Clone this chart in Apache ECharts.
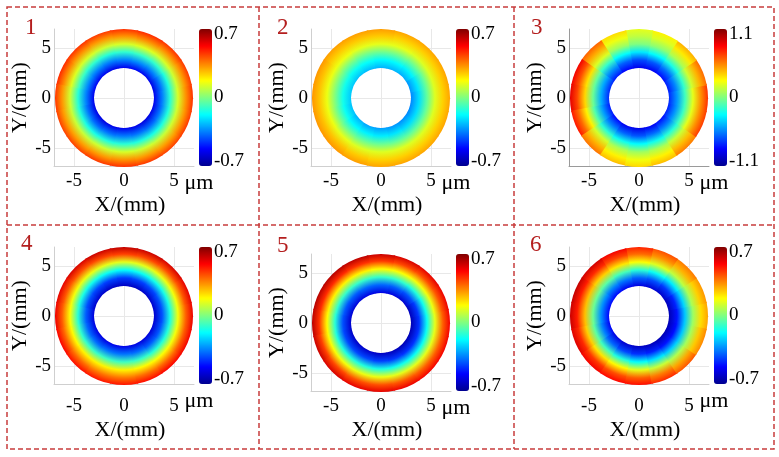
<!DOCTYPE html>
<html><head><meta charset="utf-8">
<script src="https://cdn.jsdelivr.net/npm/echarts@6/dist/echarts.min.js"></script>
<style>html,body{margin:0;padding:0;background:#fff}#c{width:779px;height:457px}</style>
</head><body><div id="c"></div>
<script>
// ---------- data ----------
const panelLabels = ['1', '2', '3', '4', '5', '6'];
const radiiMM = [3.0, 3.8, 4.6, 5.4, 6.2, 6.9];
const anglesDeg = [0, 22.5, 45, 67.5, 90, 112.5, 135, 157.5, 180, 202.5, 225, 247.5, 270, 292.5, 315, 337.5];
const axisTicksMM = [-5, 0, 5];
const colorLimits = [0.7, 0.7, 1.1, 0.7, 0.7, 0.7];
const unitLabel = 'μm';
const xName = 'X/(mm)';
const yName = 'Y/(mm)';

// rows = radii (inner -> outer), columns = angles (deg, CCW from +X), values in μm
const panel1 = [
  [-0.55,-0.56,-0.55,-0.54,-0.55,-0.56,-0.55,-0.54,-0.55,-0.56,-0.57,-0.56,-0.55,-0.56,-0.57,-0.56],
  [-0.36,-0.37,-0.35,-0.34,-0.35,-0.36,-0.35,-0.34,-0.35,-0.37,-0.38,-0.37,-0.36,-0.37,-0.38,-0.37],
  [-0.12,-0.13,-0.11,-0.10,-0.11,-0.12,-0.11,-0.10,-0.12,-0.13,-0.14,-0.13,-0.12,-0.13,-0.14,-0.13],
  [0.12,0.11,0.12,0.13,0.12,0.11,0.12,0.13,0.11,0.10,0.10,0.11,0.12,0.11,0.10,0.11],
  [0.33,0.32,0.33,0.34,0.33,0.32,0.33,0.34,0.32,0.31,0.31,0.32,0.33,0.32,0.31,0.32],
  [0.46,0.45,0.46,0.47,0.46,0.45,0.46,0.47,0.45,0.44,0.44,0.45,0.46,0.45,0.44,0.45]
];
const panel2 = [
  [-0.34,-0.32,-0.29,-0.28,-0.28,-0.27,-0.26,-0.25,-0.25,-0.26,-0.28,-0.30,-0.31,-0.32,-0.33,-0.34],
  [-0.22,-0.21,-0.19,-0.18,-0.18,-0.17,-0.16,-0.15,-0.15,-0.16,-0.18,-0.19,-0.20,-0.21,-0.22,-0.22],
  [-0.04,-0.04,-0.03,-0.02,-0.02,-0.02,-0.01,0.00,0.00,-0.01,-0.02,-0.03,-0.03,-0.04,-0.04,-0.04],
  [0.13,0.13,0.13,0.14,0.14,0.14,0.15,0.15,0.15,0.15,0.14,0.13,0.13,0.13,0.13,0.13],
  [0.24,0.24,0.24,0.24,0.25,0.25,0.25,0.26,0.26,0.26,0.26,0.25,0.24,0.24,0.24,0.24],
  [0.30,0.30,0.30,0.30,0.31,0.31,0.31,0.32,0.32,0.32,0.32,0.31,0.30,0.30,0.30,0.30]
];
const panel3 = [
  [-0.74,-0.77,-0.81,-0.85,-0.87,-0.83,-0.78,-0.74,-0.73,-0.77,-0.81,-0.86,-0.88,-0.85,-0.80,-0.76],
  [-0.50,-0.54,-0.59,-0.64,-0.67,-0.62,-0.53,-0.46,-0.45,-0.49,-0.55,-0.61,-0.64,-0.60,-0.55,-0.51],
  [-0.14,-0.17,-0.22,-0.28,-0.32,-0.27,-0.16,-0.06,-0.05,-0.10,-0.18,-0.24,-0.27,-0.24,-0.19,-0.15],
  [0.22,0.17,0.10,0.03,0.00,0.06,0.20,0.34,0.36,0.30,0.18,0.10,0.07,0.10,0.16,0.22],
  [0.52,0.44,0.32,0.20,0.14,0.24,0.46,0.66,0.68,0.60,0.44,0.30,0.25,0.30,0.42,0.52],
  [0.72,0.60,0.45,0.30,0.22,0.35,0.62,0.85,0.88,0.78,0.58,0.42,0.36,0.42,0.56,0.70]
];
const panel4 = [
  [-0.60,-0.60,-0.61,-0.62,-0.62,-0.62,-0.61,-0.60,-0.58,-0.57,-0.57,-0.56,-0.56,-0.57,-0.58,-0.59],
  [-0.42,-0.42,-0.43,-0.44,-0.45,-0.44,-0.43,-0.42,-0.40,-0.39,-0.38,-0.37,-0.37,-0.38,-0.40,-0.41],
  [-0.14,-0.14,-0.15,-0.16,-0.17,-0.16,-0.15,-0.14,-0.12,-0.11,-0.10,-0.09,-0.09,-0.10,-0.12,-0.13],
  [0.16,0.16,0.15,0.14,0.14,0.14,0.15,0.16,0.17,0.18,0.19,0.19,0.19,0.18,0.17,0.16],
  [0.40,0.41,0.42,0.43,0.44,0.43,0.42,0.41,0.40,0.39,0.38,0.37,0.37,0.38,0.39,0.40],
  [0.55,0.56,0.58,0.60,0.61,0.60,0.58,0.56,0.55,0.53,0.51,0.50,0.50,0.51,0.53,0.54]
];
const panel5 = [
  [-0.64,-0.63,-0.60,-0.58,-0.57,-0.57,-0.58,-0.59,-0.60,-0.61,-0.61,-0.61,-0.62,-0.63,-0.64,-0.64],
  [-0.46,-0.45,-0.42,-0.40,-0.39,-0.39,-0.40,-0.41,-0.42,-0.43,-0.43,-0.43,-0.44,-0.45,-0.46,-0.46],
  [-0.16,-0.15,-0.13,-0.11,-0.10,-0.10,-0.10,-0.11,-0.12,-0.13,-0.13,-0.13,-0.14,-0.15,-0.16,-0.16],
  [0.14,0.15,0.16,0.17,0.18,0.19,0.19,0.19,0.18,0.17,0.16,0.15,0.15,0.14,0.14,0.14],
  [0.40,0.41,0.42,0.43,0.45,0.46,0.47,0.47,0.46,0.44,0.43,0.42,0.42,0.41,0.40,0.40],
  [0.54,0.55,0.56,0.58,0.60,0.62,0.63,0.63,0.62,0.60,0.58,0.56,0.56,0.55,0.54,0.54]
];
const panel6 = [
  [-0.64,-0.63,-0.61,-0.59,-0.57,-0.55,-0.53,-0.52,-0.52,-0.54,-0.57,-0.60,-0.62,-0.63,-0.64,-0.64],
  [-0.50,-0.48,-0.45,-0.42,-0.40,-0.37,-0.35,-0.33,-0.33,-0.35,-0.39,-0.43,-0.46,-0.48,-0.50,-0.51],
  [-0.25,-0.23,-0.20,-0.16,-0.12,-0.08,-0.05,-0.03,-0.03,-0.05,-0.09,-0.13,-0.17,-0.21,-0.24,-0.25],
  [0.04,0.06,0.09,0.13,0.17,0.21,0.24,0.26,0.26,0.24,0.21,0.18,0.14,0.10,0.07,0.05],
  [0.22,0.24,0.28,0.33,0.38,0.43,0.47,0.49,0.49,0.47,0.45,0.42,0.40,0.36,0.30,0.25],
  [0.30,0.32,0.36,0.42,0.48,0.54,0.59,0.61,0.60,0.57,0.54,0.52,0.51,0.47,0.41,0.34]
];
const panelTables = [panel1, panel2, panel3, panel4, panel5, panel6];

// ---------- layout / style ----------
const FONT = 'Liberation Serif';
const frames = [
  {left: 54,  top: 29,  numL: 25,  numT: 16,  xm: 6,  xg: 28, axisC: '#cfcfcf'},
  {left: 311, top: 29,  numL: 277, numT: 16,  xm: 6,  xg: 28, axisC: '#cfcfcf'},
  {left: 569, top: 29,  numL: 531, numT: 16,  xm: 6,  xg: 28, axisC: '#9a9a9a'},
  {left: 54,  top: 247, numL: 21,  numT: 232, xm: 13, xg: 35, axisC: '#cfcfcf'},
  {left: 311, top: 254, numL: 277, numT: 234, xm: 6,  xg: 28, axisC: '#cfcfcf'},
  {left: 569, top: 247, numL: 530, numT: 233, xm: 13, xg: 35, axisC: '#cfcfcf'}
];
const PW = 140, PH = 137;
const JET = ['#00008f','#0000ff','#0080ff','#00ffff','#80ff80','#ffff00','#ff8000','#ff0000','#800000'];
const JET_RGB = JET.map(h => [1,3,5].map(k => parseInt(h.substr(k,2),16)));
function jet(v, lim) {
  let f = (v + lim) / (2 * lim);
  f = Math.max(0, Math.min(1, f));
  const s = f * 8, i = Math.min(7, Math.floor(s)), t = s - i;
  const a = JET_RGB[i], b = JET_RGB[i + 1];
  return 'rgb(' + a.map((x, k) => Math.round(x + (b[k] - x) * t)).join(',') + ')';
}
function makeRender(table, lim) {
  const half = Math.PI / anglesDeg.length;
  return function (params, api) {
    const j = api.value(2);
    const c = api.coord([0, 0]);
    const rPx = radiiMM.map(r => api.size([r, 0])[0]);
    const rOut = rPx[rPx.length - 1];
    const stops = radiiMM.map((r, i) => ({offset: rPx[i] / rOut, color: jet(table[i][j], lim)}));
    const th = anglesDeg[j] * Math.PI / 180;
    const grad = new echarts.graphic.RadialGradient(c[0], c[1], rOut, stops, true);
    return {
      type: 'sector',
      shape: {cx: c[0], cy: c[1], r0: rPx[0], r: rOut, startAngle: -th - half - 0.012, endAngle: -th + half + 0.012, clockwise: true},
      style: {fill: grad, stroke: null}
    };
  };
}

const grid = [], xAxis = [], yAxis = [], series = [], visualMap = [], title = [];
frames.forEach((f, i) => {
  const lim = colorLimits[i];
  grid.push({left: f.left, top: f.top, width: PW, height: PH, containLabel: false, outerBoundsMode: 'none'});
  xAxis.push({
    type: 'value', gridIndex: i, min: -7, max: 7, splitNumber: 3,
    name: xName, nameLocation: 'middle', nameGap: f.xg,
    nameTextStyle: {fontFamily: FONT, fontSize: 22, color: '#000', padding: [0, 0, 0, 12]},
    axisLine: {show: true, onZero: false, lineStyle: {color: f.axisC, width: 1}},
    axisTick: {show: false},
    axisLabel: {customValues: axisTicksMM, fontFamily: FONT, fontSize: 19, color: '#000', margin: f.xm},
    splitLine: {show: true, showMinLine: false, showMaxLine: false, lineStyle: {color: '#e8e8e8', width: 1}}
  });
  yAxis.push({
    type: 'value', gridIndex: i, min: -6.8, max: 6.9, splitNumber: 3,
    name: yName, nameLocation: 'middle', nameGap: 15,
    nameTextStyle: {fontFamily: FONT, fontSize: 22, color: '#000'},
    axisLine: {show: true, onZero: false, lineStyle: {color: f.axisC, width: 1}},
    axisTick: {show: false},
    axisLabel: {customValues: axisTicksMM, fontFamily: FONT, fontSize: 19, color: '#000', margin: 3},
    splitLine: {show: true, showMinLine: false, showMaxLine: false, lineStyle: {color: '#e8e8e8', width: 1}}
  });
  series.push({
    type: 'custom', coordinateSystem: 'cartesian2d', xAxisIndex: i, yAxisIndex: i,
    data: anglesDeg.map((a, j) => [0, 0, j]), encode: {x: 0, y: 1},
    renderItem: makeRender(panelTables[i], lim), silent: true, animation: false, z: 3
  });
  title.push({text: panelLabels[i], left: f.numL, top: f.numT, padding: 0,
    textStyle: {fontFamily: FONT, fontSize: 23, fontWeight: 'normal', color: '#b41e1e'}});
});
// colorbars (visualMap) + their label axes
frames.forEach((f, i) => {
  const lim = colorLimits[i];
  const barLeft = f.left + 145, barTop = f.top;
  visualMap.push({
    type: 'continuous', min: -lim, max: lim, orient: 'vertical', left: barLeft, top: barTop,
    itemWidth: 13, itemHeight: PH, padding: 0, calculable: false, realtime: false, hoverLink: false,
    seriesIndex: i, dimension: 2, inRange: {color: JET}, text: null, show: true
  });
  const gi = 6 + i;
  grid.push({left: barLeft, top: barTop + 5, width: 13, height: PH - 10, containLabel: false, outerBoundsMode: 'none'});
  xAxis.push({type: 'value', gridIndex: gi, show: false, min: 0, max: 1});
  yAxis.push({
    type: 'value', gridIndex: gi, position: 'right', min: -lim, max: lim, interval: lim,
    name: unitLabel, nameLocation: 'start', nameGap: 11,
    nameTextStyle: {fontFamily: FONT, fontSize: 22, color: '#000'},
    axisLine: {show: false}, axisTick: {show: false}, splitLine: {show: false},
    axisLabel: {fontFamily: FONT, fontSize: 19, color: '#000', margin: 2,
      formatter: v => (Math.abs(v) < 1e-9 ? '0' : String(Math.round(v * 10) / 10))}
  });
});

const dashStyle = {stroke: '#c83c3c', lineWidth: 1.5, lineDash: [5, 3], fill: null};
const graphic = [
  {type: 'rect', shape: {x: 7, y: 7, width: 767, height: 442}, style: dashStyle, silent: true, z: 10},
  {type: 'line', shape: {x1: 259, y1: 7, x2: 259, y2: 449}, style: dashStyle, silent: true, z: 10},
  {type: 'line', shape: {x1: 514, y1: 7, x2: 514, y2: 449}, style: dashStyle, silent: true, z: 10},
  {type: 'line', shape: {x1: 7, y1: 225, x2: 774, y2: 225}, style: dashStyle, silent: true, z: 10}
];

const chart = echarts.init(document.getElementById('c'), null, {renderer: 'canvas'});
chart.setOption({
  animation: false, backgroundColor: '#fff',
  title, grid, xAxis, yAxis, series, visualMap, graphic
});
</script></body></html>
